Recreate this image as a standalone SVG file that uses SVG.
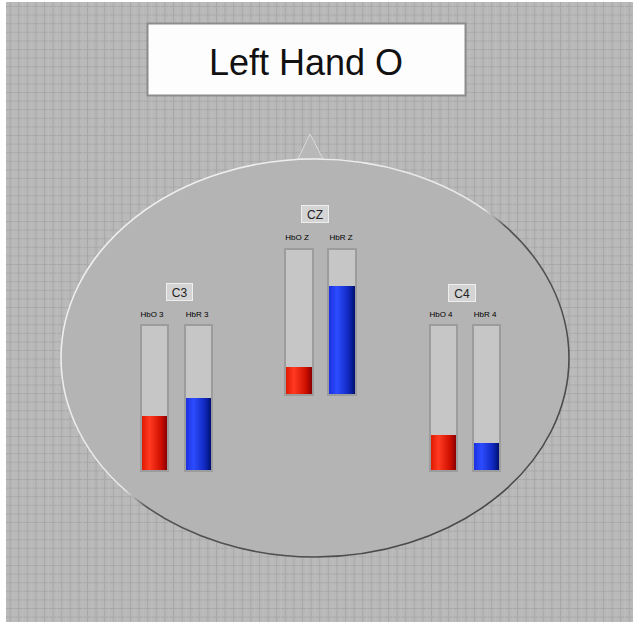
<svg xmlns="http://www.w3.org/2000/svg" width="633" height="625" viewBox="0 0 633 625">
  <defs>
    <pattern id="grid" patternUnits="userSpaceOnUse" x="1" y="6" width="8.6" height="8.6">
      <rect width="8.6" height="8.6" fill="#b9b9b9"/>
      <rect x="0" y="0" width="1" height="8.6" fill="#a8a8a8"/>
      <rect x="0" y="0" width="8.6" height="1" fill="#a8a8a8"/>
      <rect x="4.3" y="0" width="0.6" height="8.6" fill="#c0c0c0"/>
    </pattern>
    <linearGradient id="red" x1="0" y1="0" x2="1" y2="0">
      <stop offset="0" stop-color="#e01a00"/>
      <stop offset="0.3" stop-color="#ff3a22"/>
      <stop offset="0.75" stop-color="#d01000"/>
      <stop offset="1" stop-color="#8a0000"/>
    </linearGradient>
    <linearGradient id="blue" x1="0" y1="0" x2="1" y2="0">
      <stop offset="0" stop-color="#1a30e0"/>
      <stop offset="0.3" stop-color="#2d4cff"/>
      <stop offset="0.75" stop-color="#1028c0"/>
      <stop offset="1" stop-color="#001070"/>
    </linearGradient>
    <linearGradient id="rim" x1="0" y1="0" x2="1" y2="1">
      <stop offset="0" stop-color="#f2f2f2"/>
      <stop offset="0.48" stop-color="#e8e8e8"/>
      <stop offset="0.52" stop-color="#555555"/>
      <stop offset="1" stop-color="#444444"/>
    </linearGradient>
    <style>
      .frame { fill: #c6c6c6; stroke: #9c9c9c; stroke-width: 2; }
      .lbl { font-family: "Liberation Sans", Arial, sans-serif; font-size: 8px; fill: #000; text-anchor: middle; }
      .tag rect { fill: #d4d4d4; stroke: #eeeeee; stroke-width: 1; }
      .tag text { font-family: "Liberation Sans", Arial, sans-serif; font-size: 12px; fill: #222; text-anchor: middle; }
    </style>
  </defs>

  <rect width="633" height="625" fill="#ffffff"/>
  <rect x="6" y="2" width="627" height="620" fill="url(#grid)"/>

  <g id="head">
    <polygon points="298,159 310,134 323,159" fill="#b8b8b8" stroke="#dadada" stroke-width="1"/>
    <ellipse cx="315" cy="358" rx="254" ry="199" fill="#b4b4b4" stroke="url(#rim)" stroke-width="1.6"/>
  </g>

  <g id="title">
    <rect x="147.5" y="23.5" width="318" height="72" fill="#fdfdfd" stroke="#8c8c8c" stroke-width="2"/>
    <text x="306" y="75" font-family="Liberation Sans, Arial, sans-serif" font-size="36" fill="#111" text-anchor="middle">Left Hand O</text>
  </g>

  <g id="c3">
    <g class="tag"><rect x="166.5" y="283.5" width="26" height="17"/><text x="179.5" y="296.5">C3</text></g>
    <text class="lbl" x="152" y="317">HbO 3</text>
    <text class="lbl" x="197" y="317">HbR 3</text>
    <g id="hbo3">
      <rect class="frame" x="141" y="325" width="27" height="146"/>
      <rect x="142" y="416" width="25" height="54" fill="url(#red)"/>
    </g>
    <g id="hbr3">
      <rect class="frame" x="185" y="325" width="27" height="146"/>
      <rect x="186" y="398" width="25" height="72" fill="url(#blue)"/>
    </g>
  </g>

  <g id="cz">
    <g class="tag"><rect x="301.5" y="205.5" width="27" height="17"/><text x="315" y="218.5">CZ</text></g>
    <text class="lbl" x="297" y="240">HbO Z</text>
    <text class="lbl" x="341" y="240">HbR Z</text>
    <g id="hboz">
      <rect class="frame" x="285" y="249" width="28" height="146"/>
      <rect x="286" y="367" width="26" height="27" fill="url(#red)"/>
    </g>
    <g id="hbrz">
      <rect class="frame" x="328" y="249" width="28" height="146"/>
      <rect x="329" y="286" width="26" height="108" fill="url(#blue)"/>
    </g>
  </g>

  <g id="c4">
    <g class="tag"><rect x="448.5" y="284.5" width="27" height="17"/><text x="462" y="297.5">C4</text></g>
    <text class="lbl" x="441" y="317">HbO 4</text>
    <text class="lbl" x="485" y="317">HbR 4</text>
    <g id="hbo4">
      <rect class="frame" x="430" y="325" width="27" height="146"/>
      <rect x="431" y="435" width="25" height="35" fill="url(#red)"/>
    </g>
    <g id="hbr4">
      <rect class="frame" x="473" y="325" width="27" height="146"/>
      <rect x="474" y="443" width="25" height="27" fill="url(#blue)"/>
    </g>
  </g>

  <g id="connectors"/>
</svg>
